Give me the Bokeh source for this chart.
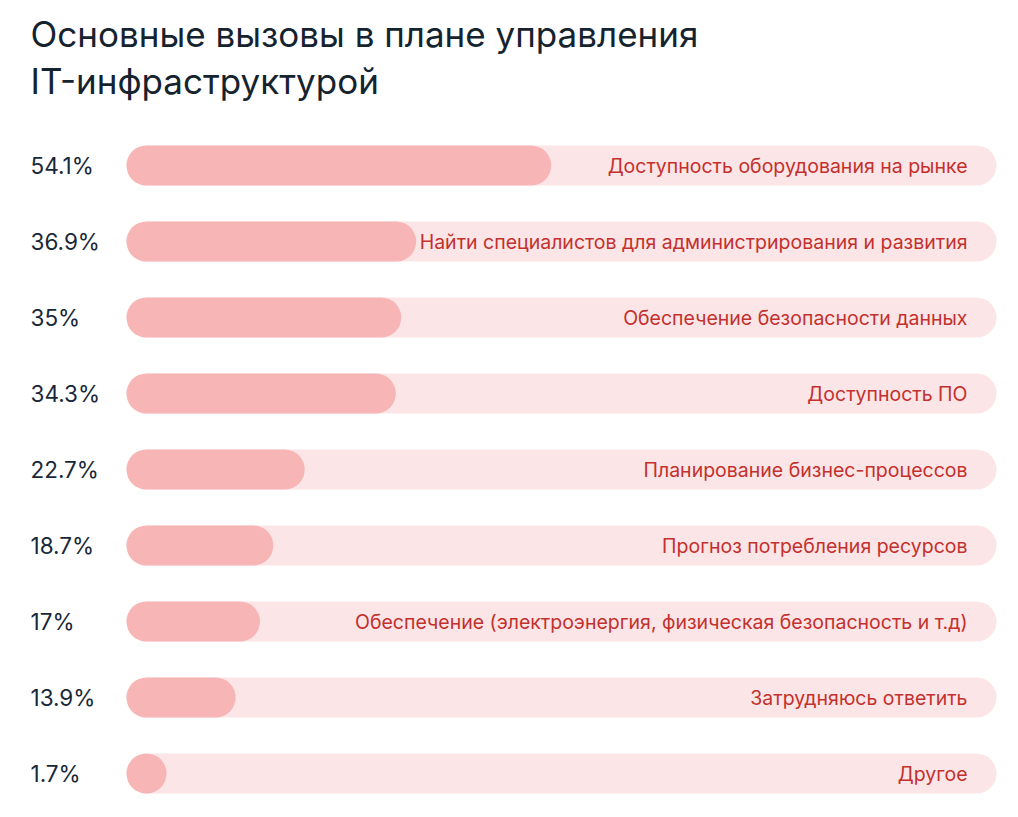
from bokeh.plotting import figure
from bokeh.models import Range1d, ColumnDataSource, Label
from bokeh.core.properties import value
from bokeh.embed import file_html
from bokeh.resources import INLINE
import numpy as np

title_lines = ["Основные вызовы в плане управления", "IT-инфраструктурой"]
categories = [
    "Доступность оборудования на рынке",
    "Найти специалистов для администрирования и развития",
    "Обеспечение безопасности данных",
    "Доступность ПО",
    "Планирование бизнес-процессов",
    "Прогноз потребления ресурсов",
    "Обеспечение (электроэнергия, физическая безопасность и т.д)",
    "Затрудняюсь ответить",
    "Другое",
]
values = [54.1, 36.9, 35, 34.3, 22.7, 18.7, 17, 13.9, 1.7]
value_labels = ["54.1%", "36.9%", "35%", "34.3%", "22.7%", "18.7%", "17%", "13.9%", "1.7%"]

W, H = 1000, 800
PX_PER_UNIT = 7.85       # pixels per percent
X0_PX = 126              # frame pixel where 0% sits
ROW_PX = 76
ROW0_PX = 165
BAR_PX = 40

x_start = -X0_PX / PX_PER_UNIT
x_end = (W - X0_PX) / PX_PER_UNIT
track_end = (996 - X0_PX) / PX_PER_UNIT
label_x = (967 - X0_PX) / PX_PER_UNIT
pct_x = (30 - X0_PX) / PX_PER_UNIT
y_top = -ROW0_PX / ROW_PX
y_bottom = (H - ROW0_PX) / ROW_PX
bar_h = BAR_PX / ROW_PX
min_w = BAR_PX / PX_PER_UNIT

p = figure(width=W, height=H, output_backend="svg", toolbar_location=None,
           x_range=Range1d(x_start, x_end), y_range=Range1d(y_bottom, y_top),
           min_border=0, outline_line_color=None)
p.axis.visible = False
p.grid.visible = False
p.background_fill_color = "white"
p.border_fill_color = "white"

n = len(categories)
src = ColumnDataSource(dict(
    y=list(range(n)),
    v=values,
    right=list(np.maximum(np.array(values), min_w)),
    cat=categories,
    lab=value_labels,
    track=[track_end] * n,
    lx=[label_x] * n,
    px=[pct_x] * n,
))

p.hbar(y="y", left=0, right="track", height=bar_h, source=src,
       fill_color="#fce5e6", line_color=None, border_radius=BAR_PX // 2)
p.hbar(y="y", left=0, right="right", height=bar_h, source=src,
       fill_color="#f7b5b5", line_color=None, border_radius=BAR_PX // 2)

p.text(x="lx", y="y", text="cat", source=src, text_align="right",
       text_baseline="middle", text_color="#c3302d",
       text_font=value("Inter"), text_font_size="19.5px")
p.text(x="px", y="y", text="lab", source=src, text_align="left",
       text_baseline="middle", text_color="#182838",
       text_font=value("Inter"), text_font_size="22.5px")

for i, t in enumerate(title_lines):
    p.add_layout(Label(x=30, y=H - 33 - 47 * i, x_units="screen", y_units="screen",
                       text=t, text_font="Inter", text_font_size="35px",
                       text_color="#15232f", text_baseline="middle"))

open("out.html", "w").write(file_html(p, INLINE))
